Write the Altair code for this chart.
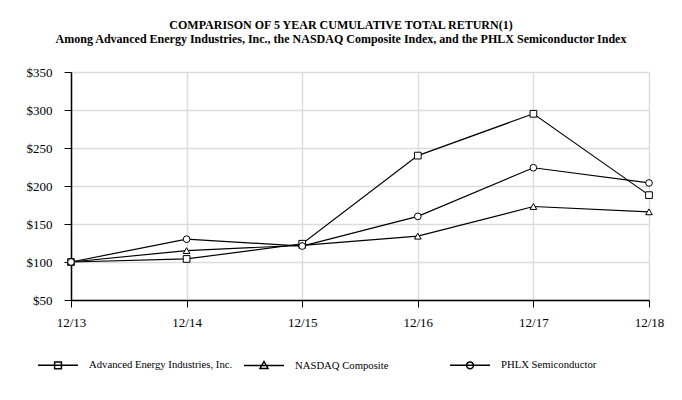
import altair as alt
import pandas as pd

years = ["12/13", "12/14", "12/15", "12/16", "12/17", "12/18"]
series_names = ["Advanced Energy Industries, Inc.", "NASDAQ Composite", "PHLX Semiconductor"]
aeis = [100, 104, 124, 240, 295, 188]
nasdaq = [100, 115, 122, 134, 173, 166]
phlx = [100, 130, 121, 160, 224, 204]
y_ticks = [50, 100, 150, 200, 250, 300, 350]

rows = []
for name, vals in zip(series_names, [aeis, nasdaq, phlx]):
    for yr, v in zip(years, vals):
        rows.append({"Year": yr, "Series": name, "Value": v})
df = pd.DataFrame(rows)

FONT = "Liberation Serif"

legend_paths = [
    "M-1,0H1M-0.17,-0.17H0.17V0.17H-0.17Z",
    "M-1,0H1M0,-0.2L0.2,0.15H-0.2Z",
    "M-1,0H1M0.17,0A0.17,0.17 0 1,1 -0.17,0A0.17,0.17 0 1,1 0.17,0",
]

x_enc = alt.X(
    "Year:O",
    sort=years,
    scale=alt.Scale(type="point", padding=0),
    axis=alt.Axis(
        title=None, labelAngle=0, tickSize=7, labelPadding=9,
        labelFont=FONT, labelFontSize=13, labelColor="black",
        domainColor="black", domainWidth=1.5, tickColor="black", tickWidth=1,
        grid=True, gridColor="#dcdcdc", gridWidth=1.5,
    ),
)
y_enc = alt.Y(
    "Value:Q",
    scale=alt.Scale(domain=[50, 350], nice=False, zero=False),
    axis=alt.Axis(
        title=None, values=y_ticks, format="$,.0f", tickSize=7, labelPadding=12,
        labelFont=FONT, labelFontSize=13, labelColor="black",
        domainColor="black", domainWidth=1.5, tickColor="black", tickWidth=1,
        grid=True, gridColor="#dcdcdc", gridWidth=1.5,
    ),
)

# invisible layer that only provides the legend (line + marker symbols)
legend_layer = alt.Chart().mark_point(
    filled=False, color="black", strokeWidth=1.5, size=1600, opacity=0
).encode(
    x=x_enc,
    y=y_enc,
    shape=alt.Shape(
        "Series:N",
        scale=alt.Scale(domain=series_names, range=legend_paths),
        legend=alt.Legend(
            title=None, orient="none", legendX=-34, legendY=272,
            direction="horizontal", columns=3, gridAlign="all", columnPadding=8,
            labelFont=FONT, labelFontSize=10.7, labelColor="black", labelOffset=10,
            symbolSize=1600, symbolStrokeWidth=1.5, symbolStrokeColor="black",
            symbolOpacity=1, padding=0,
        ),
    ),
)

lines = alt.Chart().mark_line(color="black", strokeWidth=1.2).encode(
    x=x_enc, y=y_enc, detail="Series:N"
)

points = alt.Chart().mark_point(
    filled=True, fill="white", stroke="black", strokeWidth=1, size=45, opacity=1
).encode(
    x=x_enc,
    y=y_enc,
    shape=alt.Shape(
        "Series:N",
        scale=alt.Scale(domain=series_names, range=["square", "triangle-up", "circle"]),
        legend=None,
    ),
)

chart = alt.layer(legend_layer, lines, points, data=df).resolve_scale(
    shape="independent"
).properties(
    width=578,
    height=228,
    autosize=alt.AutoSizeParams(type="none"),
    padding={"left": 63, "top": 64, "right": 25, "bottom": 92},
    title=alt.TitleParams(
        text=["COMPARISON OF 5 YEAR CUMULATIVE TOTAL RETURN(1)",
              "Among Advanced Energy Industries, Inc., the NASDAQ Composite Index, and the PHLX Semiconductor Index"],
        font=FONT, fontSize=12, fontWeight="bold", lineHeight=14, color="black",
        anchor="middle", frame="group", dx=-19, offset=20,
    ),
).configure_view(stroke=None).configure(background="white")

chart.save("out.html", embed_options={"renderer": "svg", "actions": False})
